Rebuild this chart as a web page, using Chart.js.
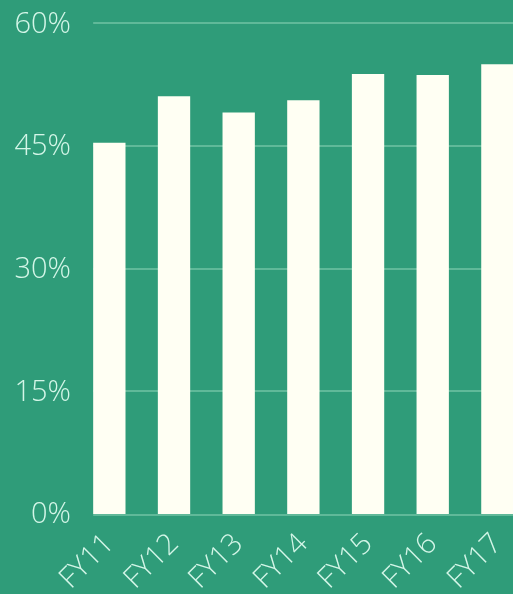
<!DOCTYPE html>
<html lang="en">
<head>
    <meta charset="UTF-8">
    <title>FY share</title>
    <script src="https://cdn.jsdelivr.net/npm/chart.js"></script>
    <style>
        html, body { margin: 0; padding: 0; overflow: hidden; background: #2f9c79; }
        #wrap { position: relative; width: 535px; height: 594px; }
    </style>
</head>
<body>
    <div id="wrap"><canvas id="fyChart"></canvas></div>

    <script>
        // data
        const years = ['FY11', 'FY12', 'FY13', 'FY14', 'FY15', 'FY16', 'FY17'];
        const shares = [45.4, 51.1, 49.1, 50.6, 53.8, 53.7, 55.0];
        const yTicks = [0, 15, 30, 45, 60];

        const textColor = '#d4f6e8';
        const gridColor = 'rgba(190, 240, 215, 0.35)';
        const fontFamily = '"Open Sans", Inter, sans-serif';

        // gridlines start at the first bar, not at the axis
        const gridFromBars = {
            id: 'gridFromBars',
            beforeDatasetsDraw(chart) {
                const ctx = chart.ctx;
                const y = chart.scales.y;
                const first = chart.getDatasetMeta(0).data[0];
                const x0 = first.x - first.width / 2;
                ctx.save();
                ctx.strokeStyle = gridColor;
                ctx.lineWidth = 2;
                yTicks.forEach(t => {
                    const py = Math.round(y.getPixelForValue(t)) + (t === 0 ? 1 : 0);
                    ctx.beginPath();
                    ctx.moveTo(x0, py);
                    ctx.lineTo(chart.width, py);
                    ctx.stroke();
                });
                ctx.restore();
            }
        };

        const ctx = document.getElementById('fyChart').getContext('2d');
        new Chart(ctx, {
            type: 'bar',
            data: {
                labels: years,
                datasets: [{
                    data: shares,
                    backgroundColor: '#fffff3',
                    borderWidth: 0,
                    categoryPercentage: 1,
                    barPercentage: 0.5
                }]
            },
            options: {
                responsive: true,
                maintainAspectRatio: false,
                animation: false,
                layout: { padding: { top: 20, left: 0, right: 0, bottom: 0 } },
                plugins: {
                    legend: { display: false },
                    tooltip: { enabled: false }
                },
                scales: {
                    x: {
                        offset: true,
                        grid: { display: false, drawTicks: false },
                        border: { display: false },
                        ticks: {
                            color: textColor,
                            font: { family: fontFamily, size: 29, weight: 300 },
                            minRotation: 45,
                            maxRotation: 45,
                            padding: 13,
                            autoSkip: false
                        },
                        afterFit(scale) { scale.height = 80; }
                    },
                    y: {
                        min: 0,
                        max: 60,
                        grid: { display: false, drawTicks: false },
                        border: { display: false },
                        ticks: {
                            stepSize: 15,
                            color: textColor,
                            font: { family: fontFamily, size: 29, weight: 300 },
                            padding: 6,
                            labelOffset: 1,
                            callback: v => v + '%'
                        },
                        afterFit(scale) { scale.width = 77; }
                    }
                }
            },
            plugins: [gridFromBars]
        });
    </script>
</body>
</html>
